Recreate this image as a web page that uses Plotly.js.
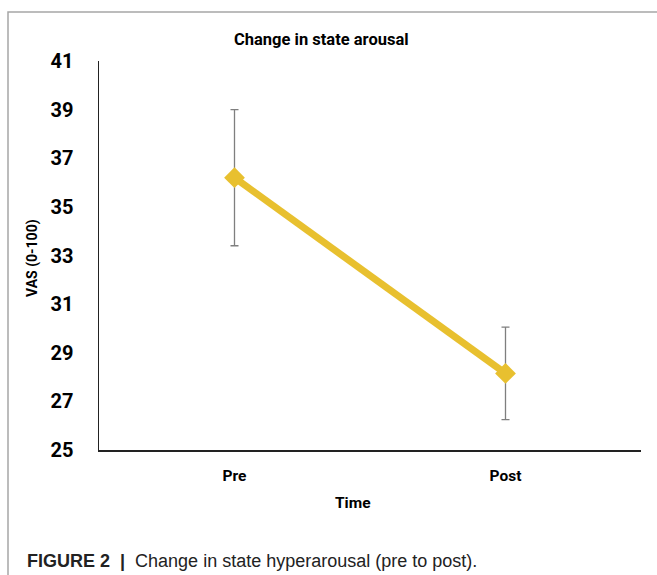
<!DOCTYPE html>
<html>
<head>
<meta charset="utf-8">
<script src="https://cdn.plot.ly/plotly-3.0.1.min.js"></script>
<style>html,body{margin:0;padding:0;background:#fff;}#chart{width:657px;height:575px;}</style>
</head>
<body>
<div id="chart"></div>
<script>
const categories = ["Pre", "Post"];
const meanValues = [36.2, 28.15];
const errorValues = [2.8, 1.9];
const yTicks = [25, 27, 29, 31, 33, 35, 37, 39, 41];

const L = 99, R = 16, T = 61, B = 125, W = 657, H = 575;
const pw = W - L - R, ph = H - T - B;
const px = x => (x - L) / pw;
const py = y => (H - B - y) / ph;

const trace = {
  x: categories,
  y: meanValues,
  type: "scatter",
  mode: "lines+markers",
  line: {color: "#E8C02F", width: 7},
  marker: {symbol: "diamond", size: 16, color: "#E8C02F"},
  error_y: {type: "data", array: errorValues, visible: true, color: "#7F7F7F", thickness: 1.3, width: 4},
  hoverinfo: "skip"
};

const boldFont = "Roboto, 'Open Sans', sans-serif";

const layout = {
  width: W, height: H,
  margin: {l: L, r: R, t: T, b: B},
  paper_bgcolor: "#fff",
  plot_bgcolor: "#fff",
  showlegend: false,
  font: {family: boldFont, color: "#000"},
  xaxis: {
    type: "category",
    range: [-0.5, 1.5],
    tickvals: categories,
    ticktext: categories.map(c => "<b>" + c + "</b>"),
    showgrid: false, zeroline: false,
    showline: true, linecolor: "#222", linewidth: 1.5,
    ticks: "",
    tickfont: {family: boldFont, size: 15.5, color: "#000"},
    ticklabelstandoff: 11
  },
  yaxis: {
    range: [25, 41],
    tickvals: yTicks,
    ticktext: yTicks.map(v => "<b>" + v + "</b>"),
    showgrid: false, zeroline: false,
    showline: true, linecolor: "#222", linewidth: 1.5,
    ticks: "",
    tickfont: {family: boldFont, size: 20, color: "#000"},
    ticklabelstandoff: 20
  },
  shapes: [
    {type: "path", xref: "paper", yref: "paper",
     path: `M ${px(8)} ${py(640)} L ${px(8)} ${py(12)} L ${px(720)} ${py(12)}`,
     line: {color: "#A6A6A6", width: 1.5}, layer: "below"}
  ],
  annotations: [
    {text: "<b>Change in state arousal</b>", xref: "paper", yref: "paper", x: px(321), y: py(39),
     xanchor: "center", yanchor: "middle", showarrow: false,
     font: {family: boldFont, size: 16.5, color: "#000"}},
    {text: "<b>VAS (0-100)</b>", xref: "paper", yref: "paper", x: px(32), y: py(258),
     xanchor: "center", yanchor: "middle", textangle: -90, showarrow: false,
     font: {family: boldFont, size: 14, color: "#000"}},
    {text: "<b>Time</b>", xref: "paper", yref: "paper", x: px(353), y: py(503),
     xanchor: "center", yanchor: "middle", showarrow: false,
     font: {family: boldFont, size: 15.5, color: "#000"}},
    {text: "<b>FIGURE 2</b>  <b>|</b>  Change in state hyperarousal (pre to post).", xref: "paper", yref: "paper",
     x: px(25), y: py(561), xanchor: "left", yanchor: "middle", showarrow: false,
     font: {family: "'Liberation Sans', Arial, sans-serif", size: 18, color: "#222"}}
  ]
};

Plotly.newPlot("chart", [trace], layout, {staticPlot: true, displayModeBar: false});
</script>
</body>
</html>
